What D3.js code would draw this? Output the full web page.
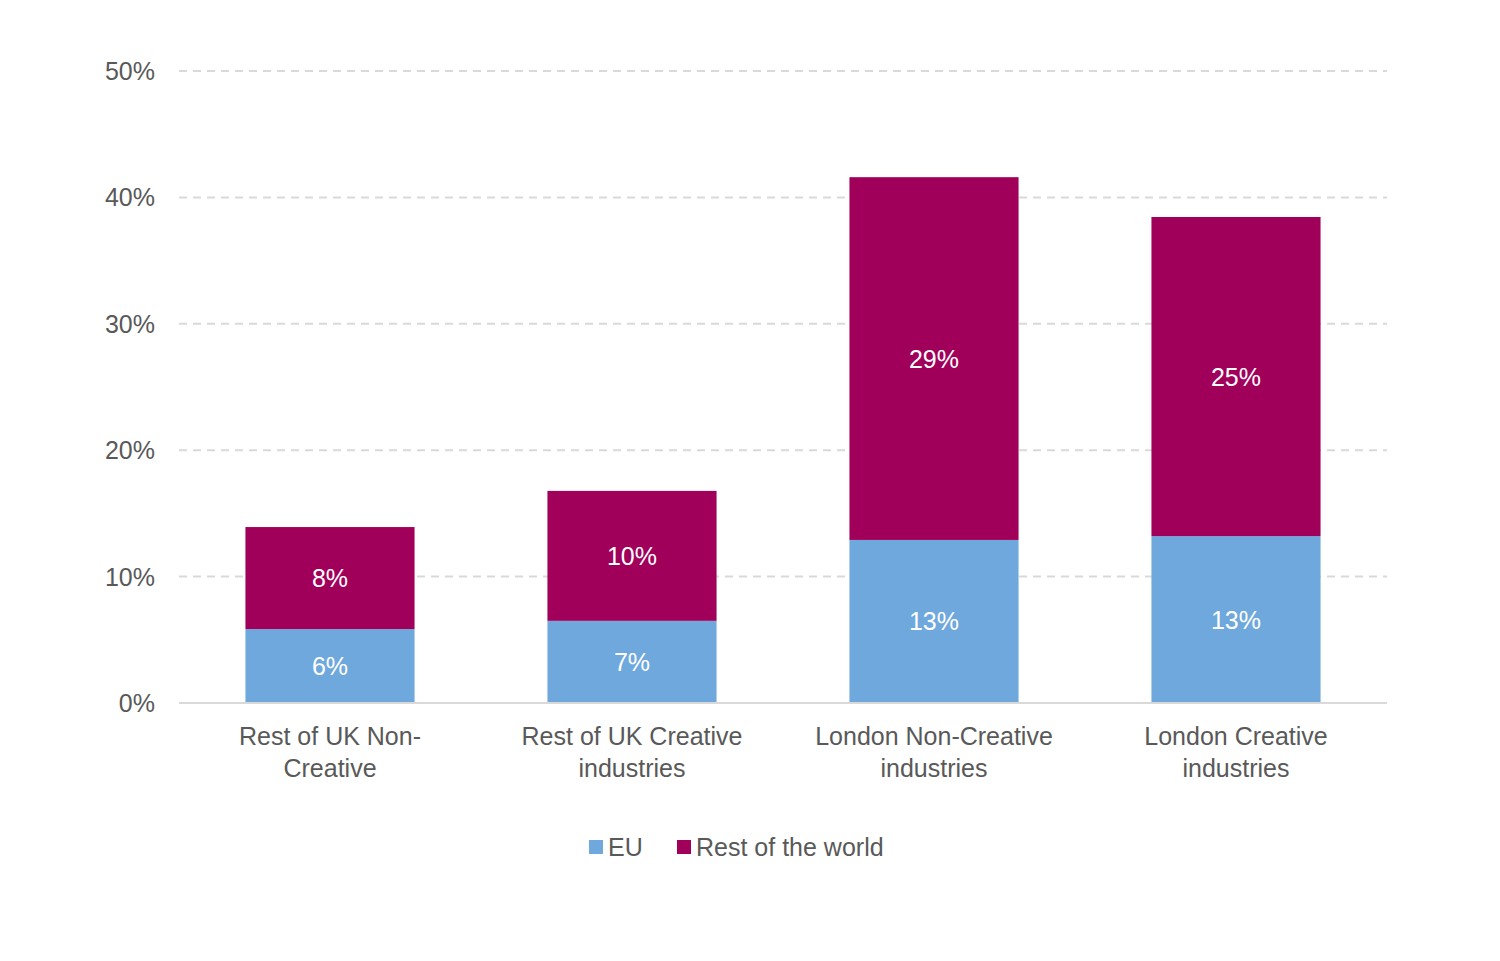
<!DOCTYPE html>
<html><head><meta charset="utf-8">
<script src="https://cdn.jsdelivr.net/npm/d3@7"></script>
<style>body{margin:0;background:#fff}svg{font-family:"Liberation Sans",Arial,sans-serif}</style>
</head><body><svg id="c" width="1500" height="961"></svg>
<script>
const categories=[["Rest of UK Non-","Creative"],["Rest of UK Creative","industries"],["London Non-Creative","industries"],["London Creative","industries"]];
const euValues=[5.85,6.5,12.9,13.2];
const rowValues=[8.07,10.28,28.7,25.25];
const euLabels=["6%","7%","13%","13%"];
const rowLabels=["8%","10%","29%","25%"];
const yTicks=[0,10,20,30,40,50];
const seriesNames=["EU","Rest of the world"];
const colors=["#6fa8dc","#a0005a"];

const svg=d3.select("#c");
const x=d3.scaleBand().domain(d3.range(4)).range([179,1387]).paddingInner(0.44).paddingOuter(0.22);
const y=d3.scaleLinear().domain([0,50]).range([703,71]);

svg.append("g").selectAll("line").data(yTicks.slice(1)).join("line")
 .attr("x1",179).attr("x2",1387).attr("y1",d=>y(d)).attr("y2",d=>y(d))
 .attr("stroke","#d9d9d9").attr("stroke-width",2).attr("stroke-dasharray","8,6");
svg.append("g").selectAll("text").data(yTicks).join("text")
 .attr("x",155).attr("y",d=>y(d)+9).attr("text-anchor","end").attr("font-size",25).attr("fill","#595959")
 .text(d=>d+"%");

const g=svg.append("g");
categories.forEach((c,i)=>{
 const x0=x(i),w=x.bandwidth(),cx=x0+w/2;
 const e=euValues[i],r=rowValues[i];
 g.append("rect").attr("x",x0).attr("width",w).attr("y",y(e)).attr("height",y(0)-y(e)).attr("fill",colors[0]);
 g.append("rect").attr("x",x0).attr("width",w).attr("y",y(e+r)).attr("height",y(e)-y(e+r)).attr("fill",colors[1]);
 g.append("text").attr("x",cx).attr("y",(y(0)+y(e))/2+9).attr("text-anchor","middle").attr("font-size",25).attr("fill","#fff").text(euLabels[i]);
 g.append("text").attr("x",cx).attr("y",(y(e)+y(e+r))/2+9).attr("text-anchor","middle").attr("font-size",25).attr("fill","#fff").text(rowLabels[i]);
 c.forEach((l,j)=>g.append("text").attr("x",cx).attr("y",745+j*32).attr("text-anchor","middle").attr("font-size",25).attr("fill","#595959").text(l));
});
svg.append("line").attr("x1",179).attr("x2",1387).attr("y1",y(0)).attr("y2",y(0)).attr("stroke","#d9d9d9").attr("stroke-width",2);

const lx=[589,677];
seriesNames.forEach((s,i)=>{
 svg.append("rect").attr("x",lx[i]).attr("y",840).attr("width",14).attr("height",14).attr("fill",colors[i]);
 svg.append("text").attr("x",lx[i]+19).attr("y",856).attr("font-size",25).attr("fill","#595959").text(s);
});
</script></body></html>
